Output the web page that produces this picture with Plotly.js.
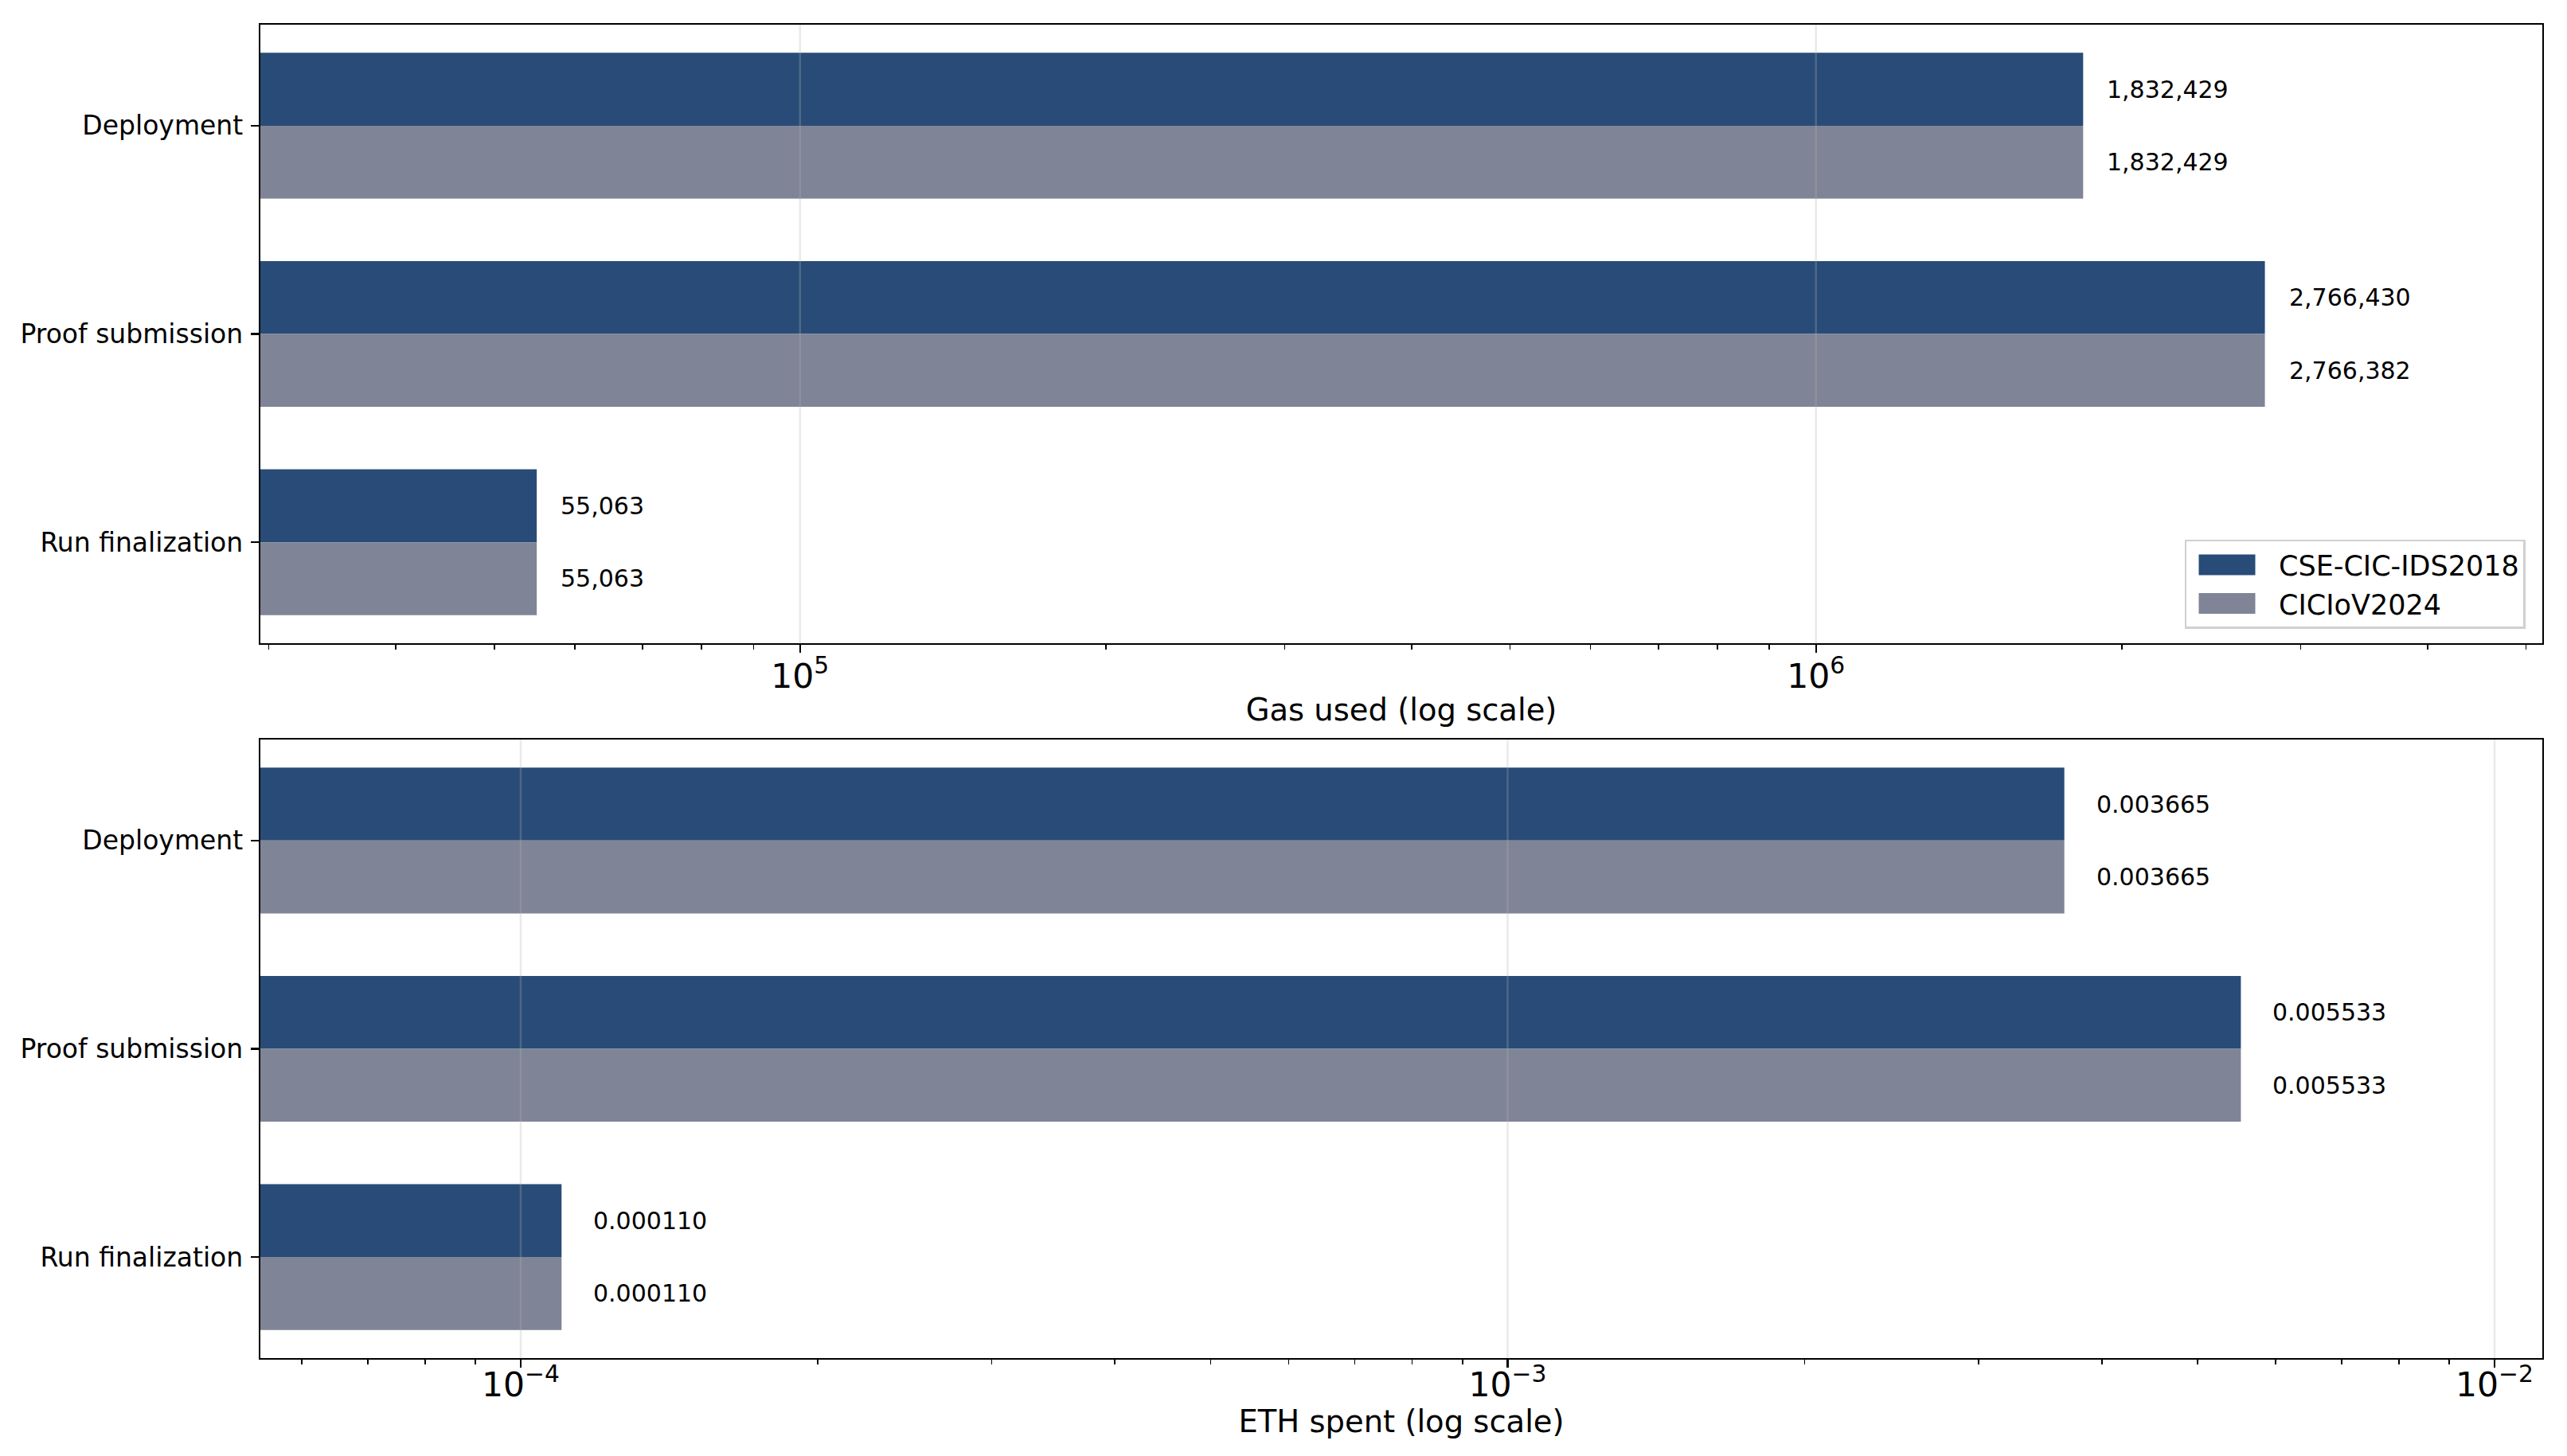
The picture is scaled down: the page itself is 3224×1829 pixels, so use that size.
<!DOCTYPE html>
<html>
<head>
<meta charset="utf-8">
<script src="https://cdn.plot.ly/plotly-3.0.1.min.js"></script>
<style>
  html, body { margin: 0; padding: 0; background: #ffffff; }
  #chart { width: 3224px; height: 1829px; }
</style>
</head>
<body>
<div id="chart"></div>
<script>
var stages = ['Deployment', 'Proof submission', 'Run finalization'];
var seriesNames = ['CSE-CIC-IDS2018', 'CICIoV2024'];
var seriesColors = ['#284c77', '#7f8496'];

var gasCse = [1832429, 2766430, 55063];
var gasCic = [1832429, 2766382, 55063];
var ethCse = [0.003665, 0.005533, 0.000110];
var ethCic = [0.003665, 0.005533, 0.000110];

// major decades, used for the grid drawn over the bars
var gasDecades = [1e5, 1e6];
var ethDecades = [1e-4, 1e-3, 1e-2];

var fontFamily = 'DejaVu Sans, sans-serif';
var barHalf = 45.8; // px from category centre to the centre of each bar

function fmtGas(v) { return v.toLocaleString('en-US'); }
function fmtEth(v) { return v.toFixed(6); }

function barTrace(values, idx, xa, ya, showLegend) {
  return {
    type: 'bar',
    orientation: 'h',
    x: values,
    y: stages,
    name: seriesNames[idx],
    legendgroup: 'g' + idx,
    xaxis: xa,
    yaxis: ya,
    showlegend: showLegend,
    marker: { color: seriesColors[idx], line: { width: 0 } },
    hoverinfo: 'skip',
  };
}

function valueLabels(seriesList, fmt, xref, yref, gap) {
  var notes = [];
  seriesList.forEach(function(values, s) {
    values.forEach(function(v, i) {
      notes.push({
        x: Math.log10(v),
        y: stages[i],
        xref: xref,
        yref: yref,
        text: fmt(v),
        showarrow: false,
        xanchor: 'left',
        yanchor: 'middle',
        xshift: gap,
        yshift: s === 0 ? barHalf : -barHalf,
        font: { family: fontFamily, size: 30, color: '#000000' },
      });
    });
  });
  return notes;
}

function gridShapes(decades, xref, yref) {
  return decades.map(function(d) {
    return {
      type: 'line',
      xref: xref,
      yref: yref + ' domain',
      x0: d, x1: d, y0: 0, y1: 1,
      layer: 'above',
      line: { color: 'rgba(177,177,177,0.27)', width: 2.6 },
    };
  });
}

var axisBase = {
  showline: true,
  linecolor: '#000000',
  linewidth: 2.2,
  mirror: true,
  ticks: 'outside',
  ticklen: 10,
  tickwidth: 2.2,
  tickcolor: '#000000',
  tickfont: { family: fontFamily, size: 34, color: '#000000' },
  zeroline: false,
};

function logAxis(range, title, anchor, labelShift, titleGap) {
  return Object.assign({}, axisBase, {
    type: 'log',
    range: range,
    anchor: anchor,
    dtick: 1,
    exponentformat: 'power',
    showgrid: false,
    ticklabelstandoff: labelShift,
    minor: {
      ticks: 'outside',
      ticklen: 5.5,
      tickwidth: 1.7,
      tickcolor: '#000000',
      dtick: 'D1',
      showgrid: false,
    },
    title: {
      text: title,
      standoff: titleGap,
      font: { family: fontFamily, size: 38.5, color: '#000000' },
    },
  });
}

function catAxis(domain, anchor) {
  return Object.assign({}, axisBase, {
    type: 'category',
    domain: domain,
    anchor: anchor,
    range: [2.485, -0.485],
    showgrid: false,
    ticklabelstandoff: 3,
    tickfont: { family: fontFamily, size: 33, color: '#000000' },
  });
}

var traces = [
  barTrace(gasCse, 0, 'x', 'y', true),
  barTrace(gasCic, 1, 'x', 'y', true),
  barTrace(ethCse, 0, 'x2', 'y2', false),
  barTrace(ethCic, 1, 'x2', 'y2', false),
];

var layout = {
  width: 3224,
  height: 1829,
  margin: { l: 327, r: 31, t: 31, b: 123 },
  paper_bgcolor: '#ffffff',
  plot_bgcolor: '#ffffff',
  font: { family: fontFamily, color: '#000000' },
  barmode: 'group',
  bargap: 0.3,
  bargroupgap: 0,
  xaxis: logAxis([4.4688, 6.715], 'Gas used (log scale)', 'y', -6, 6),
  yaxis: catAxis([0.5361, 1], 'x'),
  xaxis2: logAxis([-4.2638, -1.9516], 'ETH spent (log scale)', 'y2', -14, 0),
  yaxis2: catAxis([0, 0.4639], 'x2'),
  legend: {
    x: 0.9925,
    y: 0.547,
    xanchor: 'right',
    yanchor: 'bottom',
    bgcolor: 'rgba(255,255,255,0.8)',
    bordercolor: '#d0d0d0',
    borderwidth: 2.5,
    font: { family: fontFamily, size: 35, color: '#000000' },
    traceorder: 'normal',
    tracegroupgap: 11,
    itemwidth: 106,
  },
  shapes: gridShapes(gasDecades, 'x', 'y').concat(gridShapes(ethDecades, 'x2', 'y2')),
  annotations: valueLabels([gasCse, gasCic], fmtGas, 'x', 'y', 28)
    .concat(valueLabels([ethCse, ethCic], fmtEth, 'x2', 'y2', 38)),
};

// matplotlib-style wide legend swatches
function widenLegendSwatches(el) {
  var paths = el.querySelectorAll('.legend .legendpoints path');
  paths.forEach(function(p) {
    p.setAttribute('d', 'M28.5,13H-42.5V-13H28.5Z');
  });
}

var el = document.getElementById('chart');
Plotly.newPlot(el, traces, layout, { displayModeBar: false, staticPlot: true })
  .then(function() { widenLegendSwatches(el); });
</script>
</body>
</html>
